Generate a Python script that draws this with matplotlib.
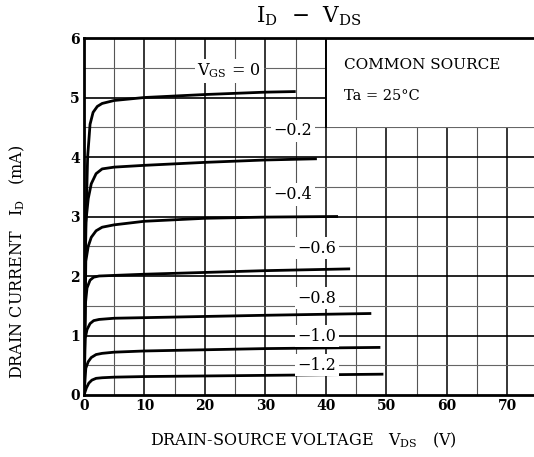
import matplotlib
matplotlib.use("Agg")
import matplotlib.pyplot as plt
from matplotlib.patches import Rectangle

# Output characteristics, Ta = 25 C
vgs_labels = ["0", "\u22120.2", "\u22120.4", "\u22120.6", "\u22120.8", "\u22121.0", "\u22121.2"]

vds_0 = [0, 0.3, 0.6, 1.0, 1.5, 2.2, 3.0, 5.0, 10, 20, 30, 35]
id_0 = [0, 2.8, 4.0, 4.55, 4.75, 4.85, 4.9, 4.95, 5.0, 5.05, 5.09, 5.1]

vds_02 = [0, 0.3, 0.7, 1.2, 2.0, 3.0, 5.0, 10, 20, 30, 38.5]
id_02 = [0, 2.9, 3.3, 3.55, 3.72, 3.8, 3.83, 3.86, 3.91, 3.95, 3.97]

vds_04 = [0, 0.3, 0.7, 1.2, 2.0, 3.0, 5.0, 10, 20, 30, 42]
id_04 = [0, 2.25, 2.5, 2.65, 2.76, 2.82, 2.86, 2.92, 2.97, 2.99, 3.0]

vds_06 = [0, 0.2, 0.5, 1.0, 1.6, 2.5, 5.0, 10, 20, 30, 44]
id_06 = [0, 1.5, 1.8, 1.93, 1.98, 2.0, 2.01, 2.03, 2.06, 2.09, 2.12]

vds_08 = [0, 0.2, 0.5, 1.0, 1.6, 2.5, 5.0, 10, 20, 30, 47.5]
id_08 = [0, 0.95, 1.1, 1.2, 1.25, 1.27, 1.29, 1.3, 1.32, 1.34, 1.37]

vds_10 = [0, 0.3, 0.7, 1.2, 2.0, 3.0, 5.0, 10, 20, 30, 49]
id_10 = [0, 0.45, 0.56, 0.63, 0.68, 0.7, 0.72, 0.74, 0.76, 0.78, 0.8]

vds_12 = [0, 0.4, 0.8, 1.3, 2.0, 3.0, 5.0, 10, 20, 30, 49.5]
id_12 = [0, 0.12, 0.2, 0.25, 0.28, 0.29, 0.3, 0.31, 0.32, 0.33, 0.35]

curves = [(vds_0, id_0), (vds_02, id_02), (vds_04, id_04), (vds_06, id_06),
          (vds_08, id_08), (vds_10, id_10), (vds_12, id_12)]
label_pos = [(24, 5.45), (34.5, 4.44), (34.5, 3.37), (38.5, 2.47),
             (38.5, 1.63), (38.5, 0.99), (38.5, 0.5)]

x_ticks = [0, 10, 20, 30, 40, 50, 60, 70]
y_ticks = [0, 1, 2, 3, 4, 5, 6]

plt.rcParams["font.family"] = ["DejaVu Serif"]
plt.rcParams["mathtext.fontset"] = "dejavuserif"

fig = plt.figure(figsize=(5.34, 4.57), dpi=100)
ax = fig.add_axes([84 / 534, 62 / 457, 1 - 84 / 534, 357 / 457])
ax.set_xlim(0, 74.4)
ax.set_ylim(0, 6)

# grid
for x in range(5, 80, 5):
    if x % 10 == 0:
        ax.axvline(x, color="black", lw=1.1, zorder=1)
    else:
        ax.axvline(x, color="#555555", lw=0.8, zorder=1)
for k in range(1, 12):
    y = k * 0.5
    if k % 2 == 0:
        ax.axhline(y, color="black", lw=1.2, zorder=1)
    else:
        ax.axhline(y, color="#666666", lw=0.8, zorder=1)

# blank area for the condition box
ax.add_patch(Rectangle((40, 4.5), 40, 1.6, facecolor="white", edgecolor="none", zorder=2))
ax.plot([40, 40], [4.5, 6], color="black", lw=1.4, zorder=3)
ax.text(43, 5.55, "COMMON SOURCE", fontsize=11, va="center", zorder=4)
ax.text(43, 5.02, "Ta = 25\u00b0C", fontsize=10.5, va="center", zorder=4)

for (vx, iy) in curves:
    ax.plot(vx, iy, color="black", lw=2.0, zorder=5, solid_capstyle="butt")

for i, (lab, (lx, ly)) in enumerate(zip(vgs_labels, label_pos)):
    if i == 0:
        s = r"V$_{\rm GS}$ = 0"
    else:
        s = lab
    ax.text(lx, ly, s, fontsize=11.5, ha="center", va="center", zorder=6,
            bbox=dict(facecolor="white", edgecolor="none", pad=2))

for side in ["left", "bottom", "top"]:
    ax.spines[side].set_linewidth(2)
ax.spines["right"].set_visible(False)

ax.set_xticks(x_ticks)
ax.set_yticks(y_ticks)
ax.tick_params(length=0, labelsize=10, pad=3)
for t in ax.get_xticklabels() + ax.get_yticklabels():
    t.set_fontweight("bold")

fig.text(309 / 534, 1 - 16 / 457, "I$_{\\rm D}$  \u2212  V$_{\\rm DS}$",
         ha="center", va="center", fontsize=15.5)
fig.text(303 / 534, 1 - 440 / 457, r"DRAIN-SOURCE VOLTAGE   V$_{\rm DS}$   (V)",
         ha="center", va="center", fontsize=11.5)
fig.text(17 / 534, 1 - 262 / 457, r"DRAIN CURRENT   I$_{\rm D}$   (mA)",
         ha="center", va="center", fontsize=11.5, rotation=90)

fig.savefig("out.png", dpi=100)
